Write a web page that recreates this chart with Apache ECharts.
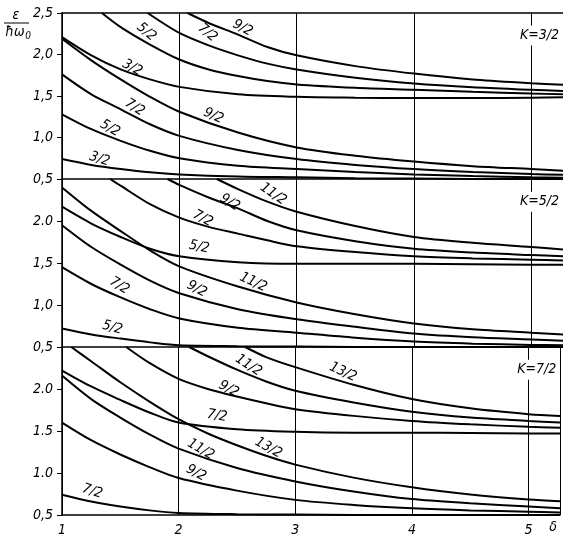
<!DOCTYPE html>
<html><head><meta charset="utf-8">
<script src="https://cdn.jsdelivr.net/npm/echarts@6/dist/echarts.min.js"></script>
<style>html,body{margin:0;padding:0;background:#fff}#c{width:563px;height:541px}</style>
</head><body><div id="c"></div>
<script>
// ---------- DATA ----------
const X0 = [1, 1.25, 1.5, 1.75, 2, 2.5, 3, 3.5, 4, 4.5, 5, 5.27];
const xTicks = ['1', '2', '3', '4', '5'];
const yTicksP1 = ['0,5', '1,0', '1,5', '2,0', '2,5'];
const yTicksP2 = ['0,5', '1,0', '1,5', '2.0', ''];
const yTicksP3 = ['0,5', '1.0', '1.5', '2.0', ''];

// Panel K=3/2
const p1_up92_x = [2.07, 2.25, 2.5, 2.75, 3, 3.5, 4, 4.5, 5, 5.27];
const p1_up92_y = [2.5, 2.38, 2.24, 2.09, 1.99, 1.86, 1.77, 1.70, 1.655, 1.635];
const p1_up72_x = [1.73, 2, 2.25, 2.5, 2.75, 3, 3.5, 4, 4.5, 5, 5.27];
const p1_up72_y = [2.5, 2.26, 2.11, 1.99, 1.89, 1.82, 1.72, 1.65, 1.605, 1.575, 1.56];
const p1_up52_x = [1.34, 1.5, 1.75, 2, 2.25, 2.5, 2.75, 3, 3.5, 4, 4.5, 5, 5.27];
const p1_up52_y = [2.5, 2.33, 2.12, 1.94, 1.82, 1.74, 1.68, 1.64, 1.60, 1.575, 1.55, 1.53, 1.52];
const p1_up32_y = [2.21, 1.99, 1.82, 1.70, 1.61, 1.52, 1.49, 1.48, 1.475, 1.475, 1.48, 1.485];
const p1_lo92_y = [2.19, 1.93, 1.70, 1.49, 1.31, 1.06, 0.88, 0.78, 0.71, 0.655, 0.62, 0.60];
const p1_lo72_y = [1.76, 1.52, 1.34, 1.16, 1.02, 0.85, 0.74, 0.67, 0.62, 0.585, 0.56, 0.55];
const p1_lo52_y = [1.28, 1.10, 0.96, 0.84, 0.75, 0.66, 0.62, 0.585, 0.555, 0.535, 0.52, 0.515];
const p1_lo32_y = [0.74, 0.67, 0.62, 0.58, 0.555, 0.53, 0.52, 0.51, 0.505, 0.5, 0.5, 0.5];

// Panel K=5/2
const p2_up112_x = [2.32, 2.5, 2.75, 3, 3.5, 4, 4.5, 5, 5.27];
const p2_up112_y = [2.5, 2.38, 2.23, 2.11, 1.94, 1.81, 1.74, 1.69, 1.66];
const p2_up92_x = [1.9, 2, 2.25, 2.5, 2.75, 3, 3.5, 4, 4.5, 5, 5.27];
const p2_up92_y = [2.5, 2.43, 2.28, 2.15, 2.0, 1.89, 1.76, 1.67, 1.625, 1.595, 1.58];
const p2_up72_x = [1.41, 1.5, 1.75, 2, 2.25, 2.5, 2.75, 3, 3.5, 4, 4.5, 5, 5.27];
const p2_up72_y = [2.5, 2.42, 2.2, 2.04, 1.93, 1.85, 1.77, 1.70, 1.63, 1.58, 1.555, 1.54, 1.53];
const p2_up52_y = [2.17, 1.97, 1.81, 1.67, 1.58, 1.51, 1.49, 1.49, 1.49, 1.485, 1.48, 1.48];
const p2_lo112_y = [2.40, 2.12, 1.88, 1.65, 1.46, 1.22, 1.03, 0.89, 0.78, 0.71, 0.67, 0.65];
const p2_lo92_y = [1.95, 1.69, 1.48, 1.29, 1.14, 0.95, 0.83, 0.74, 0.66, 0.615, 0.59, 0.575];
const p2_lo72_y = [1.45, 1.25, 1.09, 0.95, 0.84, 0.73, 0.67, 0.61, 0.565, 0.54, 0.525, 0.52];
const p2_lo52_y = [0.72, 0.65, 0.60, 0.555, 0.52, 0.51, 0.505, 0.5, 0.5, 0.5, 0.5, 0.5];

// Panel K=7/2
const p3_up132_x = [2.57, 2.75, 3, 3.5, 4, 4.5, 5, 5.27];
const p3_up132_y = [2.5, 2.38, 2.26, 2.05, 1.88, 1.77, 1.70, 1.68];
const p3_up112_x = [2.09, 2.25, 2.5, 2.75, 3, 3.5, 4, 4.5, 5, 5.27];
const p3_up112_y = [2.5, 2.39, 2.23, 2.09, 1.98, 1.84, 1.73, 1.66, 1.62, 1.60];
const p3_up92_x = [1.55, 1.75, 2, 2.25, 2.5, 2.75, 3, 3.5, 4, 4.5, 5, 5.27];
const p3_up92_y = [2.5, 2.31, 2.12, 2.0, 1.91, 1.83, 1.76, 1.68, 1.62, 1.58, 1.55, 1.54];
const p3_up72_y = [2.22, 2.03, 1.87, 1.72, 1.60, 1.52, 1.49, 1.48, 1.48, 1.475, 1.47, 1.47];
const p3_lo132_x = [1.08, 1.25, 1.5, 1.75, 2, 2.25, 2.5, 2.75, 3, 3.5, 4, 4.5, 5, 5.27];
const p3_lo132_y = [2.5, 2.33, 2.08, 1.85, 1.64, 1.47, 1.33, 1.205, 1.10, 0.945, 0.83, 0.745, 0.685, 0.665];
const p3_lo112_y = [2.16, 1.88, 1.66, 1.46, 1.29, 1.06, 0.90, 0.78, 0.69, 0.64, 0.60, 0.58];
const p3_lo92_y = [1.60, 1.39, 1.22, 1.07, 0.94, 0.79, 0.68, 0.62, 0.58, 0.555, 0.54, 0.53];
const p3_lo72_y = [0.74, 0.66, 0.60, 0.555, 0.525, 0.51, 0.505, 0.5, 0.5, 0.5, 0.5, 0.5];

// curve labels: [text, x, y, rotationDeg]
const p1_labels = [['9/2',2.54,2.32,-28],['7/2',2.24,2.26,-40],['5/2',1.72,2.27,-40],['3/2',1.60,1.84,-28],
                   ['7/2',1.62,1.36,-32],['9/2',2.29,1.26,-25],['5/2',1.41,1.11,-30],['3/2',1.32,0.74,-18]];
const p2_labels = [['11/2',2.80,2.32,-35],['9/2',2.43,2.22,-32],['7/2',2.2,2.03,-28],['5/2',2.17,1.69,-12],
                   ['11/2',2.63,1.27,-25],['9/2',2.15,1.19,-28],['7/2',1.49,1.23,-32],['5/2',1.43,0.73,-15]];
const p3_labels = [['13/2',3.41,2.2,-25],['11/2',2.6,2.28,-33],['9/2',2.43,2.0,-28],['7/2',2.33,1.68,-10],
                   ['13/2',2.77,1.3,-30],['11/2',2.19,1.28,-30],['9/2',2.15,1.0,-28],['7/2',1.26,0.78,-18]];
const panelTitles = ['K=3/2', 'K=5/2', 'K=7/2'];

// ---------- BUILD ----------
const zip = (xs, ys) => xs.map((x, i) => [x, ys[i]]);
const panels = [
  [zip(p1_up92_x,p1_up92_y), zip(p1_up72_x,p1_up72_y), zip(p1_up52_x,p1_up52_y), zip(X0,p1_up32_y),
   zip(X0,p1_lo92_y), zip(X0,p1_lo72_y), zip(X0,p1_lo52_y), zip(X0,p1_lo32_y)],
  [zip(p2_up112_x,p2_up112_y), zip(p2_up92_x,p2_up92_y), zip(p2_up72_x,p2_up72_y), zip(X0,p2_up52_y),
   zip(X0,p2_lo112_y), zip(X0,p2_lo92_y), zip(X0,p2_lo72_y), zip(X0,p2_lo52_y)],
  [zip(p3_up132_x,p3_up132_y), zip(p3_up112_x,p3_up112_y), zip(p3_up92_x,p3_up92_y), zip(X0,p3_up72_y),
   zip(p3_lo132_x,p3_lo132_y), zip(X0,p3_lo112_y), zip(X0,p3_lo92_y), zip(X0,p3_lo72_y)]
];
const yTickSets = [yTicksP1, yTicksP2, yTicksP3];
const labelSets = [p1_labels, p2_labels, p3_labels];

const FONT = "'Liberation Sans Narrow', 'DejaVu Sans Condensed', 'Liberation Sans', sans-serif";
const grids = [
  {left: 62, right: 0, top: 13, height: 166},
  {left: 62, right: 0, top: 179, height: 168},
  {left: 62, right: 0, top: 347, height: 168}
];
const xAxes = [], yAxes = [], series = [];
for (let i = 0; i < 3; i++) {
  xAxes.push({
    type: 'value', gridIndex: i, min: 1, max: 5.27, interval: 1,
    axisLine: {show: true, lineStyle: {color: '#000', width: 1.5}},
    axisTick: {show: false},
    axisLabel: {show: i === 2, margin: 8, color: '#000', fontSize: 14, fontStyle: 'italic', fontFamily: FONT,
      formatter: v => (Math.abs(v - Math.round(v)) < 1e-6 && v <= 5) ? xTicks[Math.round(v) - 1] : ''},
    splitLine: {show: true, lineStyle: {color: '#000', width: 1}}
  });
  yAxes.push({
    type: 'value', gridIndex: i, min: 0.5, max: 2.5, interval: 0.5,
    axisLine: {show: true, lineStyle: {color: '#000', width: 1.5}},
    axisTick: {show: true, length: 5, lineStyle: {color: '#000'}},
    axisLabel: {margin: 9, color: '#000', fontSize: 14, fontStyle: 'italic', fontFamily: FONT,
      formatter: v => yTickSets[i][Math.round((v - 0.5) / 0.5)] || ''},
    splitLine: {show: false}
  });
  panels[i].forEach(d => series.push({
    type: 'line', xAxisIndex: i, yAxisIndex: i, data: d, showSymbol: false, symbol: 'none',
    smooth: 0.3, clip: true, silent: true,
    lineStyle: {color: '#000', width: 2}
  }));
}
// top frame line of first panel
xAxes.push({type: 'value', gridIndex: 0, position: 'top', min: 1, max: 5.27,
  axisLine: {show: true, lineStyle: {color: '#000', width: 1.5}}, axisTick: {show: false},
  axisLabel: {show: false}, splitLine: {show: false}});

const chart = echarts.init(document.getElementById('c'), null, {renderer: 'canvas'});
chart.setOption({
  backgroundColor: '#fff', animation: false,
  grid: grids, xAxis: xAxes, yAxis: yAxes, series: series
});

// ---------- ANNOTATIONS ----------
const g = [];
for (let i = 0; i < 3; i++) {
  labelSets[i].forEach(([t, x, y, r]) => {
    const p = chart.convertToPixel({xAxisIndex: i, yAxisIndex: i}, [x, y]);
    g.push({type: 'text', x: p[0], y: p[1], rotation: r * Math.PI / 180, z: 10,
      style: {text: t, fill: '#000', font: 'italic 14px ' + FONT, textAlign: 'center', textVerticalAlign: 'middle'}});
  });
  const kp = chart.convertToPixel({xAxisIndex: i, yAxisIndex: i}, [5.07, 2.23]);
  g.push({type: 'text', x: kp[0], y: kp[1], z: 10,
    style: {text: panelTitles[i], fill: '#000', font: 'italic 14px ' + FONT, textAlign: 'center',
      textVerticalAlign: 'middle', backgroundColor: '#fff', padding: [3, 2]}});
}
// axis titles
g.push({type: 'text', x: 16, y: 15, style: {text: 'ε', fill: '#000', font: 'italic 14px ' + FONT, textAlign: 'center', textVerticalAlign: 'middle'}});
g.push({type: 'line', shape: {x1: 4, y1: 23, x2: 29, y2: 23}, style: {stroke: '#000', lineWidth: 1}});
g.push({type: 'text', x: 15, y: 32, style: {text: 'ħω', fill: '#000', font: 'italic 14px ' + FONT, textAlign: 'center', textVerticalAlign: 'middle'}});
g.push({type: 'text', x: 28, y: 36, style: {text: '0', fill: '#000', font: 'italic 10px ' + FONT, textAlign: 'center', textVerticalAlign: 'middle'}});
g.push({type: 'text', x: 553, y: 527, style: {text: 'δ', fill: '#000', font: 'italic 14px ' + FONT, textAlign: 'center', textVerticalAlign: 'middle'}});
chart.setOption({graphic: g});
</script></body></html>
